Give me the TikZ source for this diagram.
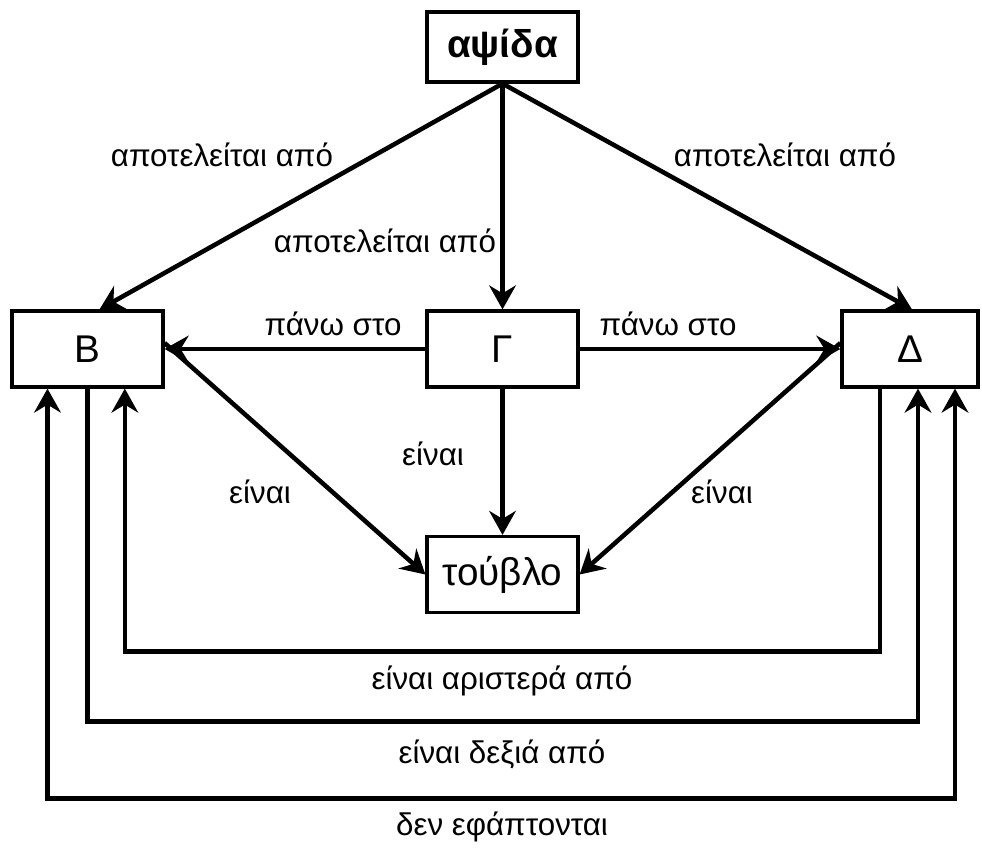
\documentclass[tikz,border=0pt]{standalone}
\usepackage{fontspec}
\setmainfont{Liberation Sans}
\usetikzlibrary{arrows.meta}

\tikzset{every picture/.style={line width=3.4pt}}
\tikzset{
  box/.style={draw, line width=2.4pt, inner sep=0pt, minimum width=113.25pt, minimum height=57pt, font=\fontsize{29}{34}\selectfont},
  lbl/.style={inner sep=0.75pt, font=\fontsize{23.5}{28}\selectfont},
  arr/.style={-{Stealth[length=18pt,width=20pt,inset=6pt]}},
  biarr/.style={{Stealth[length=18pt,width=20pt,inset=6pt]}-{Stealth[length=18pt,width=20pt,inset=6pt]}}
}

\begin{document}
\begin{tikzpicture}[x=0.75pt,y=0.75pt,yscale=-1,xscale=1]
\useasboundingbox (0,0) rectangle (982,847);

% boxes
\node [box, minimum height=52.5pt, font=\bfseries\fontsize{29}{34}\selectfont] (arch) at (502.5,47) {αψίδα};
\node [box] (B) at (87.5,349) {Β};
\node [box] (G) at (502.5,349) {Γ};
\node [box, minimum width=102pt] (D) at (910,349) {Δ};
\node [box] (T) at (502.5,574.5) {τούβλο};

% arch parts
\draw [arr] (arch.south) -- ([xshift=9pt]B.north);
\draw [arr] (arch.south) -- (G.north);
\draw [arr] (arch.south) -- ([xshift=1.5pt]D.north);
\node [lbl] (l1) at (222,155) {αποτελείται από};
\node [lbl] (l2) at (385,241) {αποτελείται από};
\node [lbl] (l3) at (785,155) {αποτελείται από};

% Γ rests on B and Δ
\draw [arr] (G.west) -- (B.east);
\draw [arr] (G.east) -- (D.west);
\node [lbl] (l4) at (333,324) {πάνω στο};
\node [lbl] (l5) at (668,324) {πάνω στο};

% all are bricks
\draw [arr] (G.south) -- (T.north);
\draw [arr] ([yshift=-4.5pt]B.east) -- (T.west);
\draw [arr] ([yshift=-4.5pt]D.west) -- (T.east);
\node [lbl] (l6) at (433,454) {είναι};
\node [lbl] (l7) at (260,492) {είναι};
\node [lbl] (l8) at (722,492) {είναι};

% relations between B and Δ
\draw [arr] ([xshift=-22.5pt]D.south) -- ++(0,263) -| ([xshift=28pt]B.south);
\node [lbl] (l9) at (502,681) {είναι αριστερά από};
\draw [arr] (B.south) -- ++(0,333) -| ([xshift=6pt]D.south);
\node [lbl] (l10) at (502,754) {είναι δεξιά από};
\draw [biarr] ([xshift=-30pt]B.south) -- ++(0,410) -| ([xshift=33.75pt]D.south);
\node [lbl] (l11) at (502,827) {δεν εφάπτονται};

\end{tikzpicture}
\end{document}
